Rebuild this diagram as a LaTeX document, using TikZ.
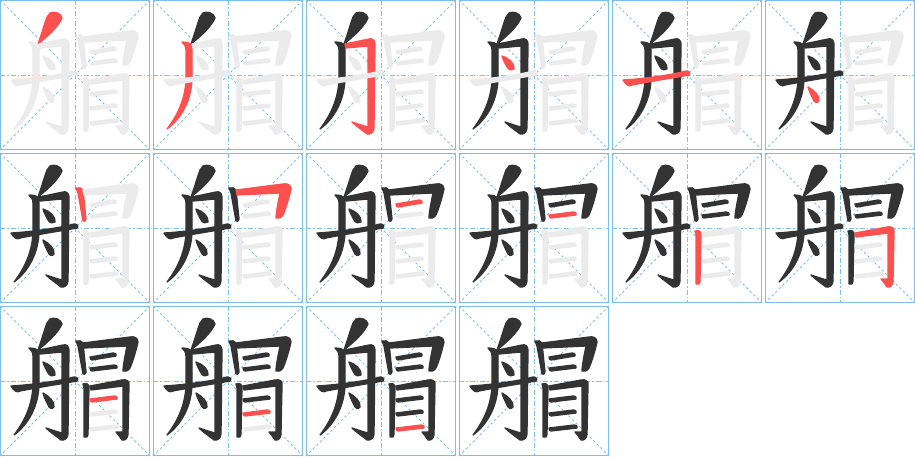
\documentclass[tikz,border=0pt]{standalone}
\usetikzlibrary{calc}
\definecolor{dk}{HTML}{333333}
\definecolor{rd}{HTML}{FF5050}
\definecolor{lg}{HTML}{EBEBEB}
\definecolor{gb}{HTML}{7CBFEE}
\tikzset{
  frame/.style={draw=gb,line width=1pt},
  midline/.style={draw=gb,line width=0.8pt,dash pattern=on 5pt off 2pt on 1.5pt off 2pt},
  diagline/.style={draw=gb,line width=0.8pt,dash pattern=on 2.5pt off 2.5pt},
  inkstroke/.style={fill=#1,draw=#1,line width=1.3pt,line join=round},
}
\expandafter\def\csname stk1\endcsname{(50,13) .. controls (54,11) and (61,13) .. (62,18) .. controls (58,27) and (48,36) .. (38,44) .. controls (41,36) and (44,25) .. (47,17) -- cycle}
\expandafter\def\csname stk2\endcsname{(29,42) .. controls (33,42) and (38,43) .. (39,46) -- (39,80) .. controls (38,100) and (29,118) .. (14,129) .. controls (24,116) and (32,100) .. (33,80) -- (33,50) .. controls (33,46) and (31,44) .. (29,42) -- cycle}
\expandafter\def\csname stk3\endcsname{(39,44) -- (63,39) .. controls (66,38) and (69,40) .. (69,44) -- (68,128) .. controls (68,132) and (64,135) .. (61,134) .. controls (56,130) and (50,126) .. (46,122) .. controls (52,124) and (58,126) .. (62,127) -- (62,46) -- (40,48) -- cycle}
\expandafter\def\csname stk4\endcsname{(43,56) .. controls (50,58) and (56,64) .. (55,69) .. controls (53,71) and (50,70) .. (48,67) .. controls (46,63) and (44,60) .. (43,56) -- cycle}
\expandafter\def\csname stk5\endcsname{(11,80) .. controls (30,79) and (60,75) .. (74,71) .. controls (77,71) and (79,73) .. (77,75) .. controls (60,78) and (35,82) .. (20,85) .. controls (17,87) and (14,85) .. (11,80) -- cycle}
\expandafter\def\csname stk6\endcsname{(43,87) .. controls (49,90) and (55,96) .. (54,101) .. controls (52,104) and (49,102) .. (48,99) .. controls (46,95) and (44,91) .. (43,87) -- cycle}
\expandafter\def\csname stk7\endcsname{(76,35) .. controls (79,34) and (82,35) .. (83,37) -- (86,66) .. controls (86,68) and (84,69) .. (83,68) -- (78,40) -- cycle}
\expandafter\def\csname stk8\endcsname{(83,37) -- (130,31) .. controls (134,30) and (138,32) .. (138,36) .. controls (136,45) and (133,55) .. (130,62) .. controls (128,65) and (125,66) .. (123,65) .. controls (123,60) and (125,50) .. (127,40) -- (84,42) -- cycle}
\expandafter\def\csname stk9\endcsname{(90,51) -- (113,47) .. controls (116,47) and (117,49) .. (116,50) -- (92,54) .. controls (91,54) and (90,53) .. (90,51) -- cycle}
\expandafter\def\csname stk10\endcsname{(90,62) -- (114,59) .. controls (117,59) and (118,61) .. (117,62) -- (92,65) .. controls (91,65) and (90,64) .. (90,62) -- cycle}
\expandafter\def\csname stk11\endcsname{(83,78) .. controls (86,77) and (89,78) .. (89,80) -- (88,128) .. controls (88,131) and (86,132) .. (84,131) -- (84,82) -- cycle}
\expandafter\def\csname stk12\endcsname{(90,80) -- (122,74) .. controls (126,73) and (130,75) .. (129,79) -- (128,128) .. controls (128,132) and (125,135) .. (122,134) .. controls (120,131) and (118,128) .. (116,126) .. controls (118,126) and (121,126) .. (123,126) -- (123,80) -- (91,84) -- cycle}
\expandafter\def\csname stk13\endcsname{(90,93) -- (114,90) .. controls (117,90) and (118,92) .. (117,93) -- (92,96) .. controls (91,96) and (90,95) .. (90,93) -- cycle}
\expandafter\def\csname stk14\endcsname{(90,107) -- (114,104) .. controls (117,104) and (118,106) .. (117,107) -- (92,110) .. controls (91,110) and (90,109) .. (90,107) -- cycle}
\expandafter\def\csname stk15\endcsname{(90,122) -- (115,119) .. controls (118,119) and (119,121) .. (118,122) -- (92,125) .. controls (91,125) and (90,124) .. (90,122) -- cycle}
\newcommand\drawstk[2]{\expandafter\let\expandafter\curstk\csname stk#1\endcsname\path[inkstroke=#2] \curstk;}
\newcommand\strokepanel[3]{%
  \begin{scope}[shift={(#1,#2)}]
    \draw[frame] (0.5,0.5) rectangle (149.5,149.5);
    \draw[midline] (0,75) -- (150,75);
    \draw[midline] (75,0) -- (75,150);
    \draw[diagline] (0,0) -- (150,150);
    \draw[diagline] (150,0) -- (0,150);
    \foreach \i in {1,...,15}{%
      \ifnum\i<#3\relax \drawstk{\i}{dk}\else\ifnum\i=#3\relax \drawstk{\i}{rd}\else \drawstk{\i}{lg}\fi\fi
    }
  \end{scope}}
\begin{document}
\begin{tikzpicture}[x=1pt,y=-1pt]
\useasboundingbox[fill=white] (0,0) rectangle (915,456);
\strokepanel{0}{0}{1}
\strokepanel{153}{0}{2}
\strokepanel{306}{0}{3}
\strokepanel{459}{0}{4}
\strokepanel{612}{0}{5}
\strokepanel{765}{0}{6}
\strokepanel{0}{153}{7}
\strokepanel{153}{153}{8}
\strokepanel{306}{153}{9}
\strokepanel{459}{153}{10}
\strokepanel{612}{153}{11}
\strokepanel{765}{153}{12}
\strokepanel{0}{306}{13}
\strokepanel{153}{306}{14}
\strokepanel{306}{306}{15}
\strokepanel{459}{306}{16}
\end{tikzpicture}
\end{document}
